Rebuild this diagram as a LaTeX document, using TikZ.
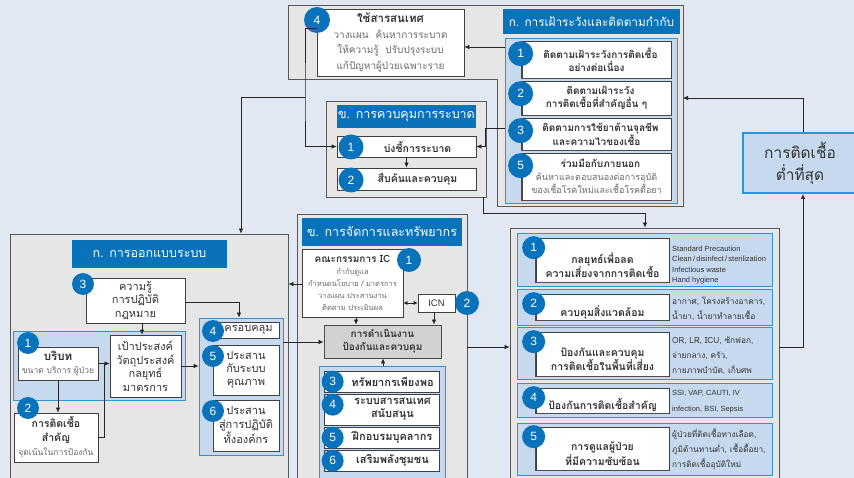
\documentclass[tikz,border=0pt]{standalone}
\usepackage{fontspec}
\setmainfont{Loma}[Script=Thai]
\newfontfamily\latinfont{Liberation Sans}
\usetikzlibrary{arrows.meta}

\definecolor{bgblue}{HTML}{E1E8F3}
\definecolor{hdrblue}{HTML}{0872BB}
\definecolor{panelfill}{HTML}{C7D9EF}
\definecolor{panelline}{HTML}{2C95DA}
\definecolor{secgray}{HTML}{E6E6E7}
\definecolor{opsgray}{HTML}{D2D2D3}
\definecolor{txtgray}{HTML}{6A6A6A}
\definecolor{txtdark}{HTML}{333333}

\newcommand{\graytxt}[1]{{\color{txtgray}\mdseries #1}}
\newcommand{\smalltxt}[1]{{\color{txtgray}\mdseries\fontsize{7.5}{9}\selectfont #1}}
\newcommand{\notetxt}[1]{{\color{txtgray}\mdseries\fontsize{8.5}{10}\selectfont #1}}

\tikzset{
  secbox/.style={draw=black!65, fill=secgray, line width=.8pt, inner sep=0pt},
  hdr/.style={fill=hdrblue, text=white, inner sep=0pt, font=\fontsize{12.5}{14}\selectfont},
  panel/.style={draw=panelline, fill=panelfill, line width=.9pt, inner sep=0pt},
  wbox/.style={draw=black!75, fill=white, line width=.7pt, inner sep=1pt, align=center, text=txtdark, font=\bfseries\fontsize{10}{13}\selectfont},
  wreg/.style={wbox, font=\fontsize{11}{13.5}\selectfont},
  boxtxt/.style={align=center, inner sep=0pt, text=txtdark, font=\bfseries\fontsize{10.5}{14.5}\selectfont},
  shadowedge/.style={black!70, line width=1.5pt},
  num/.style={circle, fill=hdrblue, text=white, minimum size=23pt, inner sep=0pt, font=\latinfont\fontsize{12}{12}\selectfont},
  lst/.style={anchor=west, align=left, inner sep=0pt, text=txtdark},
  conn/.style={draw=black!85, line width=.7pt},
  arr/.style={conn, -{Latex[length=5pt,width=4.5pt]}},
}

\begin{document}
\begin{tikzpicture}[x=1pt, y=-1pt]
\fill[bgblue] (0,0) rectangle (854,478);
\useasboundingbox (0,0) rectangle (854,478);

% surveillance
\draw[secbox] (288,5) -- (683,5) -- (683,206) -- (497,206) -- (497,79) -- (288,79) -- cycle;
\coordinate (survR) at (683,98);
\coordinate (split) at (305,97);
\node[wbox, minimum width=147pt, minimum height=67pt, font=\bfseries\fontsize{10}{15.5}\selectfont] (info) at (390.5,42.5)
  {{\fontsize{11.5}{14}\selectfont ใช้สารสนเทศ}\\\graytxt{วางแผน~~ค้นหาการระบาด}\\\graytxt{ให้ความรู้~~ปรับปรุงระบบ}\\\graytxt{แก้ปัญหาผู้ป่วยเฉพาะราย}};
\node[num, minimum size=26pt] (info n) at (317,20) {4};
\node[hdr, minimum width=177pt, minimum height=25pt, font=\fontsize{11.8}{14}\selectfont] (shdr) at (591.5,21.5) {ก. การเฝ้าระวังและติดตามกำกับ};
\node[panel, minimum width=172pt, minimum height=165pt] (spanel) at (591,120.5) {};
\foreach \n/\cy/\h/\txt in {1/59.5/37/{ติดตามเฝ้าระวังการติดเชื้อ\\อย่างต่อเนื่อง},
    2/98/34/{ติดตามเฝ้าระวัง\\การติดเชื้อที่สำคัญอื่น ๆ},
    3/134/32/{ติดตามการใช้ยาต้านจุลชีพ\\และความไวของเชื้อ},
    5/176.5/47/{ร่วมมือกับภายนอก\\\graytxt{\fontsize{9}{11}\selectfont ค้นหาและตอบสนองต่อการอุบัติ}\\\graytxt{\fontsize{9}{11}\selectfont ของเชื้อโรคใหม่และเชื้อโรคดื้อยา}}} {
  \node[wbox, minimum width=149pt, minimum height=\h pt] (surv\n) at (596.5,\cy) {\hspace*{8pt}\txt};
  \draw[shadowedge] ([yshift=-14pt]surv\n.north west) |- (surv\n.south east);
  \node[num, minimum size=25pt] (surv\n n) at ([xshift=-1pt,yshift=-13pt]surv\n.north west) {\n};
}

% outbreak control
\node[secbox, minimum width=160pt, minimum height=96pt] (ctrl) at (406,149) {};
\node[hdr, minimum width=139pt, minimum height=23pt] (chdr) at (406.5,116.5) {ข. การควบคุมการระบาด};
\node[wbox, minimum width=139pt, minimum height=21pt, font=\bfseries\fontsize{10.5}{13}\selectfont] (out1) at (406.5,146.5) {\hspace*{22pt}บ่งชี้การระบาด};
\node[wbox, minimum width=139pt, minimum height=22pt, font=\bfseries\fontsize{10.5}{13}\selectfont] (out2) at (406.5,179) {\hspace*{22pt}สืบค้นและควบคุม};
\node[num, minimum size=25pt] (out1 n) at (351,147) {1};
\node[num, minimum size=25pt] (out2 n) at (351,180) {2};
\draw[arr] (out1.south) -- (out2.north);

% lowest infection
\node[draw=panelline, fill=panelfill, line width=2pt, minimum width=114pt, minimum height=60pt, align=center, text=txtdark, font=\fontsize{15.5}{22}\selectfont] (low) at (800,163) {การติดเชื้อ\\ต่ำที่สุด};

% system design
\node[secbox, minimum width=278pt, minimum height=252pt] (design) at (149,360) {};
\node[hdr, minimum width=155pt, minimum height=28pt] (dhdr) at (149.5,254) {ก. การออกแบบระบบ};
\node[wreg, minimum width=99pt, minimum height=45pt, font=\fontsize{11}{13.5}\selectfont] (law) at (135.5,300.5) {ความรู้\\การปฏิบัติ\\กฎหมาย};
\node[num, minimum size=22pt] (law n) at (83,284) {3};
\node[panel, minimum width=172pt, minimum height=69pt] (ctxpanel) at (99,365.5) {};
\node[wbox, minimum width=80pt, minimum height=33pt, font=\bfseries\fontsize{11.5}{13}\selectfont] (ctx) at (58,363.5) {บริบท\\\notetxt{ขนาด บริการ ผู้ป่วย}};
\node[wreg, minimum width=71pt, minimum height=62pt] (goal) at (145.5,366) {เป้าประสงค์\\วัตถุประสงค์\\กลยุทธ์\\มาตรการ};
\node[wbox, minimum width=84pt, minimum height=49pt, font=\bfseries\fontsize{10.5}{14}\selectfont] (key) at (56,437.5) {การติดเชื้อ\\สำคัญ\\\notetxt{จุดเน้นในการป้องกัน}};
\node[num, minimum size=22pt] (ctx n) at (28,343) {1};
\node[num, minimum size=22pt] (key n) at (28,408) {2};
\node[panel, minimum width=84pt, minimum height=137pt] (covpanel) at (241,386.5) {};
\node[wreg, minimum width=61pt, minimum height=16pt] (cov) at (248.5,330) {ครอบคลุม};
\node[wreg, minimum width=66pt, minimum height=50pt, font=\fontsize{11}{12.8}\selectfont] (qa) at (246,370) {ประสาน\\กับระบบ\\คุณภาพ};
\node[wreg, minimum width=66pt, minimum height=51pt] (org) at (246,425.5) {ประสาน\\สู่การปฏิบัติ\\ทั้งองค์กร};
\node[num, minimum size=22pt] (cov n) at (213,331) {4};
\node[num, minimum size=22pt] (qa n) at (213,356) {5};
\node[num, minimum size=22pt] (org n) at (213,411) {6};

% management and resources
\node[secbox, minimum width=170pt, minimum height=272pt] (mgmt) at (382,350) {};
\node[hdr, minimum width=160pt, minimum height=28pt] (mhdr) at (382,232) {ข. การจัดการและทรัพยากร};
\node[wbox, minimum width=101pt, minimum height=68pt, font=\bfseries\fontsize{10}{12.2}\selectfont] (ic) at (352.5,283)
  {คณะกรรมการ IC\\\smalltxt{กำกับดูแล}\\\smalltxt{กำหนดนโยบาย / มาตรการ}\\\smalltxt{วางแผน ประสานงาน}\\\smalltxt{ติดตาม ประเมินผล}};
\node[num, minimum size=24pt] (ic n) at (409,260) {1};
\node[wreg, minimum width=37pt, minimum height=18pt, font=\latinfont\fontsize{9.5}{10}\selectfont] (icn) at (436.5,303) {ICN};
\node[num, minimum size=24pt] (icn n) at (467,303) {2};
\node[draw=black!70, fill=opsgray, line width=.8pt, minimum width=117pt, minimum height=33pt, align=center, text=txtdark, font=\bfseries\fontsize{10}{13}\selectfont] (ops) at (382.5,341.5) {การดำเนินงาน\\ป้องกันและควบคุม};
\node[panel, minimum width=126pt, minimum height=114pt] (respanel) at (382,423) {};
\foreach \n/\cy/\h/\txt in {3/381.5/21/{ทรัพยากรเพียงพอ}, 4/409.5/31/{ระบบสารสนเทศ\\\hspace*{22pt}สนับสนุน},
    5/437.5/21/{ฝึกอบรมบุคลากร}, 6/460.5/21/{เสริมพลังชุมชน}} {
  \node[wbox, minimum width=115pt, minimum height=\h pt, font=\bfseries\fontsize{11}{13}\selectfont] (res\n) at (381.5,\cy) {\hspace*{22pt}\txt};
  \node[num, minimum size=22pt] (res\n n) at ([xshift=9pt,yshift=-11pt]res\n.north west) {\n};
}

% prevention
\node[secbox, minimum width=269pt, minimum height=258pt] (prev) at (644.5,357) {};
\foreach \n/\pc/\ph/\bc/\bh/\txt in {1/259.5/53/260/44/{กลยุทธ์เพื่อลด\\ความเสี่ยงจากการติดเชื้อ},
    2/307/36/307/26/{ควบคุมสิ่งแวดล้อม}, 3/353/52/354/44/{ป้องกันและควบคุม\\การติดเชื้อในพื้นที่เสี่ยง},
    4/400/34/400.5/25/{ป้องกันการติดเชื้อสำคัญ}, 5/449/52/448.5/43/{การดูแลผู้ป่วย\\ที่มีความซับซ้อน}} {
  \node[panel, minimum width=255pt, minimum height=\ph pt] (row\n) at (644.5,\pc) {};
  \node[wbox, minimum width=133pt, minimum height=\bh pt] (risk\n) at (602.5,\bc) {};
  \node[boxtxt] (risk\n t) at ([yshift=-5pt]risk\n.center) {\txt};
  \draw[shadowedge] ([yshift=-12pt]risk\n.north west) |- (risk\n.south east);
  \node[num] (risk\n n) at ([xshift=-2pt,yshift=-10pt]risk\n.north west) {\n};
}
\node[lst, font=\latinfont\fontsize{7.5}{10.3}\selectfont] (list1) at (672,265) {Standard Precaution\\Clean\,/\,disinfect\,/\,sterilization\\Infectious waste\\Hand hygiene};
\node[lst, font=\fontsize{8.3}{15}\selectfont] (list2) at (672,309) {อากาศ, โครงสร้างอาคาร,\\น้ำยา, น้ำยาทำลายเชื้อ};
\node[lst, font=\fontsize{8.3}{15}\selectfont] (list3) at (672,356) {OR, LR, ICU, ซักฟอก,\\จ่ายกลาง, ครัว,\\กายภาพบำบัด, เก็บศพ};
\node[lst, font=\latinfont\fontsize{7.5}{16}\selectfont] (list4) at (672,402) {SSI, VAP, CAUTI, IV\\infection, BSI, Sepsis};
\node[lst, font=\fontsize{8.3}{15}\selectfont] (list5) at (672,449) {ผู้ป่วยที่ติดเชื้อทางเลือด,\\ภูมิต้านทานต่ำ, เชื้อดื้อยา,\\การติดเชื้ออุบัติใหม่};

% connectors
\draw[arr] (info.west |- 0,28) -| (split) |- (out1.west);
\draw[arr] (split) -| (design.north -| 241,0);
\draw[arr] (spanel.west |- 0,47) -- (info.east |- 0,47);
\draw[arr] (spanel.west |- 0,128) -| (485,146.5) -- (out1.east);
\draw[arr] (ctrl.south -| 483,0) |- (645,213) -- (prev.north -| 645,0);
\draw[arr] (low.north -| 803,0) |- (survR);
\draw[arr] (prev.east |- 0,347) -| (low.south -| 803,0);
\draw[arr] (law.south -| 142,0) -- (goal.north -| 142,0);
\draw[arr] (law.east |- 0,302) -| (covpanel.north -| 239,0);
\draw[arr] (ctx.south) -- (ctx.south |- key.north);
\draw[arr] (ctx.east) -- (goal.west |- ctx.east);
\draw[conn] (key.east) -| (104,363.5);
\draw[arr] (goal.east) -- (covpanel.west |- goal.east);
\draw[arr] (covpanel.east |- 0,342) -- (ops.west |- 0,342);
\draw[arr] (ic.west |- 0,284) -- (design.east |- 0,284);
\draw[conn, {Latex[length=4pt,width=4pt]}-{Latex[length=4pt,width=4pt]}] (ic.east |- icn.west) -- (icn.west);
\draw[arr] (ic.south -| 356,0) -- (ops.north -| 356,0);
\draw[arr] (icn.south -| 434,0) -- (ops.north -| 434,0);
\draw[arr] (respanel.north -| 383,0) -- (ops.south -| 383,0);
\draw[arr] (mgmt.east |- 0,347) -- (prev.west |- 0,347);
\end{tikzpicture}
\end{document}
